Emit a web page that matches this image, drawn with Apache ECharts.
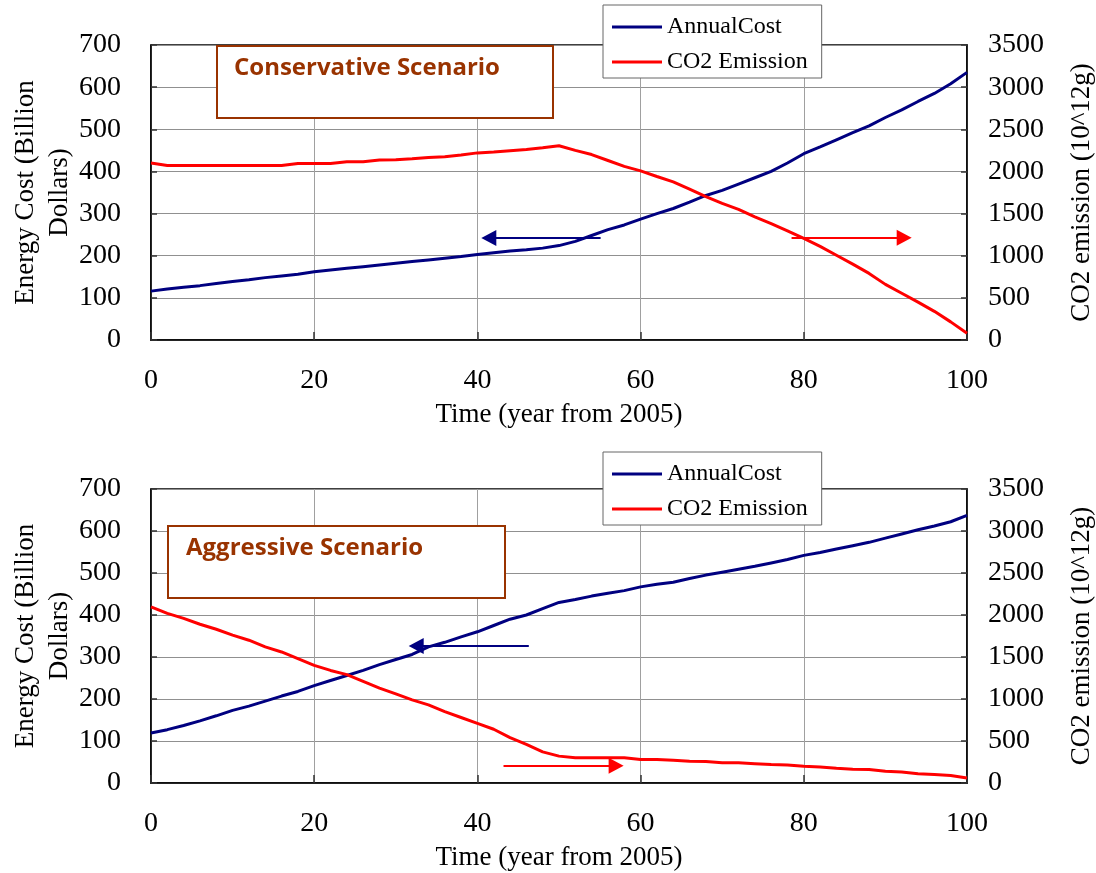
<!DOCTYPE html>
<html>
<head>
<meta charset="utf-8">
<script src="https://cdn.jsdelivr.net/npm/echarts@6/dist/echarts.min.js"></script>
<style>
  html, body { margin: 0; padding: 0; background: #fff; }
  #chart { width: 1096px; height: 873px; }
</style>
</head>
<body>
<div id="chart"></div>
<script>
// Simulation years (every second year from 2005)
const years = [0, 2, 4, 6, 8, 10, 12, 14, 16, 18, 20, 22, 24, 26, 28, 30, 32, 34, 36, 38, 40,
  42, 44, 46, 48, 50, 52, 54, 56, 58, 60, 62, 64, 66, 68, 70, 72, 74, 76, 78, 80,
  82, 84, 86, 88, 90, 92, 94, 96, 98, 100];

// Conservative scenario: annual energy cost (billion dollars)
const conservativeCost = [116, 121, 125, 129, 134, 139, 143, 148, 152, 156, 162,
  166, 170, 174, 178, 182, 186, 190, 194, 198, 203,
  207, 211, 214, 218, 224, 234, 248, 262, 273, 287,
  300, 312, 327, 343, 355, 370, 385, 400, 420, 442,
  458, 475, 492, 508, 528, 546, 566, 585, 608, 635];

// Conservative scenario: CO2 emission (10^12 g)
const conservativeCO2 = [2100, 2070, 2070, 2070, 2070, 2070, 2070, 2070, 2070, 2095, 2095,
  2095, 2115, 2115, 2135, 2140, 2150, 2165, 2175, 2195, 2220,
  2230, 2245, 2260, 2280, 2305, 2250, 2200, 2130, 2060, 2006,
  1940, 1876, 1790, 1700, 1620, 1550, 1460, 1380, 1295, 1205,
  1110, 1005, 900, 790, 660, 555, 450, 340, 215, 80];

// Aggressive scenario: annual energy cost (billion dollars)
const aggressiveCost = [119, 127, 137, 148, 160, 173, 183, 195, 207, 218, 232,
  244, 256, 268, 282, 294, 306, 324, 335, 348, 360,
  375, 390, 400, 415, 430, 437, 445, 452, 458, 467,
  473, 478, 487, 495, 502, 509, 516, 524, 532, 542,
  549, 557, 565, 573, 583, 593, 603, 612, 622, 637];

// Aggressive scenario: CO2 emission (10^12 g)
const aggressiveCO2 = [2098, 2020, 1960, 1890, 1830, 1760, 1700, 1620, 1560, 1480, 1400,
  1340, 1290, 1210, 1130, 1060, 990, 930, 850, 780, 710,
  640, 540, 460, 370, 320, 300, 300, 300, 300, 280,
  280, 270, 260, 255, 240, 240, 230, 220, 215, 200,
  190, 175, 165, 160, 140, 130, 110, 100, 90, 60];

// Axis ranges and tick steps
const costTicks = [0, 100, 200, 300, 400, 500, 600, 700];
const co2Ticks = [0, 500, 1000, 1500, 2000, 2500, 3000, 3500];
const yearTicks = [0, 20, 40, 60, 80, 100];

// Direction arrows, [year, value] tail and head-centre points
const conservativeCostArrow = [[55.1, 242], [41.4, 242]];
const conservativeCO2Arrow = [[78.5, 1212], [92.3, 1212]];
const aggressiveCostArrow = [[46.3, 326], [32.5, 326]];
const aggressiveCO2Arrow = [[43.2, 205], [57.0, 205]];

const scenarioTitles = ['Conservative Scenario', 'Aggressive Scenario'];
const seriesNames = ['AnnualCost', 'CO2 Emission'];
const costAxisTitle = 'Energy Cost (Billion\nDollars)';

const SERIF = 'Liberation Serif';
const NAVY = '#000080';
const RED = '#ff0000';
const BROWN = '#993300';

const panels = [
  { top: 45, height: 295, legendTop: 5, box: [217, 46, 336, 72], textX: 234,
    cost: conservativeCost, co2: conservativeCO2, costArrow: conservativeCostArrow, co2Arrow: conservativeCO2Arrow },
  { top: 489, height: 294, legendTop: 452, box: [168, 526, 337, 72], textX: 186,
    cost: aggressiveCost, co2: aggressiveCO2, costArrow: aggressiveCostArrow, co2Arrow: aggressiveCO2Arrow }
];

const pairs = (vals) => years.map((y, i) => [y, vals[i]]);

function arrow(points, color) {
  return {
    silent: true,
    symbol: ['none', 'triangle'],
    symbolSize: [16, 15],
    label: { show: false },
    emphasis: { disabled: true },
    itemStyle: { color: color },
    lineStyle: { color: color, width: 2, type: 'solid' },
    data: [[{ coord: points[0] }, { coord: points[1] }]]
  };
}

const tickText = { fontFamily: SERIF, fontSize: 28, color: '#000', formatter: (v) => String(v) };
const nameText = { fontFamily: SERIF, fontSize: 27, color: '#000', lineHeight: 34 };

const option = {
  animation: false,
  backgroundColor: '#fff',
  grid: panels.map(p => ({
    left: 151, width: 816, top: p.top, height: p.height,
    outerBoundsMode: 'none', containLabel: false,
    show: true, borderColor: '#000', borderWidth: 1.5, backgroundColor: 'transparent'
  })),
  xAxis: panels.map((p, i) => ({
    gridIndex: i, type: 'value',
    min: yearTicks[0], max: yearTicks[yearTicks.length - 1], interval: yearTicks[1] - yearTicks[0],
    name: 'Time (year from 2005)', nameLocation: 'middle', nameGap: 58,
    nameTextStyle: nameText,
    axisLine: { lineStyle: { color: '#000', width: 1.5 } },
    axisTick: { inside: true, length: 8, lineStyle: { color: '#333', width: 1.5 } },
    axisLabel: Object.assign({ margin: 27 }, tickText),
    splitLine: { show: true, lineStyle: { color: '#a0a0a0', width: 1 } }
  })),
  yAxis: panels.flatMap((p, i) => [
    {
      gridIndex: i, type: 'value', position: 'left',
      min: costTicks[0], max: costTicks[costTicks.length - 1], interval: costTicks[1] - costTicks[0],
      axisLine: { show: true, lineStyle: { color: '#000', width: 1.5 } },
      axisTick: { show: true, inside: true, length: 6, lineStyle: { color: '#333', width: 1.5 } },
      axisLabel: Object.assign({ margin: 30 }, tickText),
      splitLine: { show: true, lineStyle: { color: '#909090', width: 1 } }
    },
    {
      gridIndex: i, type: 'value', position: 'right',
      min: co2Ticks[0], max: co2Ticks[co2Ticks.length - 1], interval: co2Ticks[1] - co2Ticks[0],
      name: 'CO2 emission (10^12g)', nameLocation: 'middle', nameRotate: 90, nameGap: 98,
      nameTextStyle: nameText,
      axisLine: { show: true, lineStyle: { color: '#000', width: 1.5 } },
      axisTick: { show: true, inside: true, length: 6, lineStyle: { color: '#333', width: 1.5 } },
      axisLabel: Object.assign({ margin: 21 }, tickText),
      splitLine: { show: false }
    }
  ]),
  legend: panels.map(p => ({
    orient: 'vertical', left: 603, top: p.legendTop,
    data: seriesNames,
    icon: 'rect',
    itemWidth: 50, itemHeight: 3, itemGap: 9,
    padding: [9, 14, 3, 9],
    backgroundColor: '#fff', borderColor: '#666', borderWidth: 1,
    selectedMode: false,
    textStyle: { fontFamily: SERIF, fontSize: 24, color: '#000', lineHeight: 26 },
    z: 20
  })),
  series: panels.flatMap((p, i) => [
    {
      name: seriesNames[0], type: 'line', xAxisIndex: i, yAxisIndex: i * 2,
      data: pairs(p.cost), symbol: 'none', smooth: false,
      lineStyle: { color: NAVY, width: 3 }, itemStyle: { color: NAVY },
      markLine: arrow(p.costArrow, NAVY), z: 5
    },
    {
      name: seriesNames[1], type: 'line', xAxisIndex: i, yAxisIndex: i * 2 + 1,
      data: pairs(p.co2), symbol: 'none', smooth: false,
      lineStyle: { color: RED, width: 3 }, itemStyle: { color: RED },
      markLine: arrow(p.co2Arrow, RED), z: 5
    }
  ]),
  graphic: panels.flatMap((p, i) => [
    {
      type: 'rect', z: 30,
      shape: { x: p.box[0], y: p.box[1], width: p.box[2], height: p.box[3] },
      style: { fill: '#fff', stroke: BROWN, lineWidth: 2 }
    },
    {
      type: 'text', z: 31, x: p.textX, y: p.box[1] + 22,
      style: {
        text: scenarioTitles[i], fill: BROWN,
        font: 'bold 24px "Open Sans"', verticalAlign: 'middle'
      }
    },
    // left axis title, two lines reading bottom to top
    {
      type: 'text', z: 10, x: 43, y: p.top + p.height / 2, rotation: Math.PI / 2,
      style: {
        text: costAxisTitle, fill: '#000', align: 'center', verticalAlign: 'middle',
        font: '27px "Liberation Serif"', lineHeight: 34
      }
    }
  ])
};

const chart = echarts.init(document.getElementById('chart'), null, { renderer: 'canvas' });
chart.setOption(option);
</script>
</body>
</html>
